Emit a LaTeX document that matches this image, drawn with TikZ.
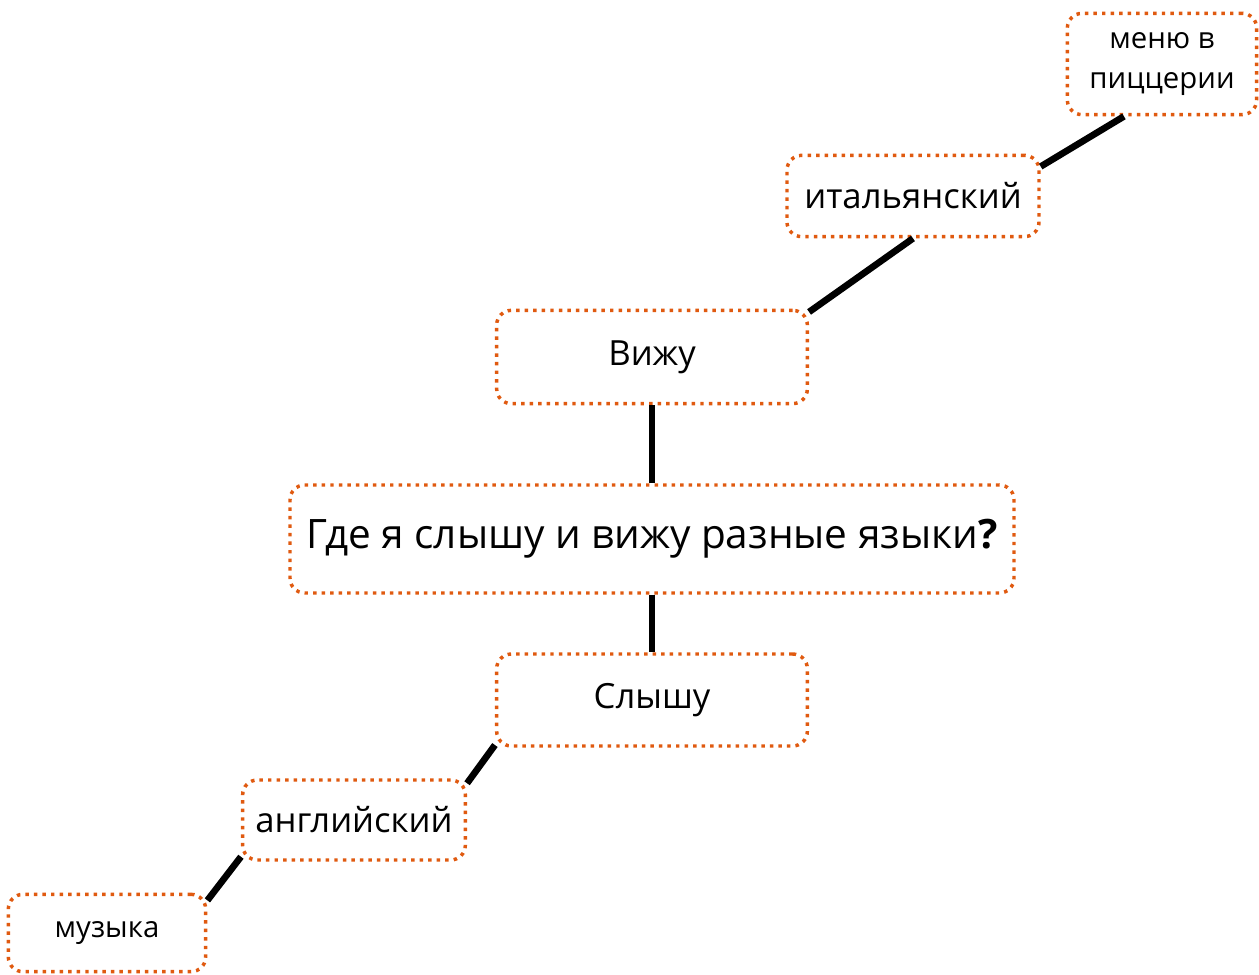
\documentclass[tikz,border=0pt]{standalone}
\usepackage{fontspec}
\setmainfont{Open Sans}
\usepackage{xcolor}
\usetikzlibrary{positioning}
\definecolor{dotorange}{HTML}{E05A10}

\begin{document}
\begin{tikzpicture}[
          x=0.75pt, y=-0.75pt,
          every node/.style={font=\fontsize{22}{30}\selectfont},
          wordbox/.style={draw=dotorange,line width=2.6pt,
                          dash pattern=on 2.6pt off 3.8pt,
                          rounded corners=11pt,fill=white,
                          inner sep=0pt,align=center},
          bigword/.style={font=\fontsize{26}{30}\selectfont},
          link/.style={line width=5pt,black},
      ]
        \useasboundingbox (0,0) rectangle (1259,974);

        \node[wordbox,minimum width=543pt,minimum height=81pt,
              font=\fontsize{30.4}{36}\selectfont] (main) at (652,539)
              {Где я слышу и вижу разные языки\textbf{?}};
        \node[wordbox,bigword,minimum width=233pt,minimum height=70pt] (vizhu) at (652,357) {Вижу};
        \node[wordbox,bigword,minimum width=233pt,minimum height=69pt] (slyshu) at (652,700) {Слышу};
        \node[wordbox,bigword,minimum width=189pt,minimum height=61pt] (ital) at (913,196) {итальянский};
        \node[wordbox,bigword,minimum width=167pt,minimum height=60pt] (angl) at (354,820) {английский};
        \node[wordbox,minimum width=142pt,minimum height=76pt] (menu) at (1162,64)
              {меню в\\пиццерии};
        \node[wordbox,minimum width=148pt,minimum height=58pt] (muz) at (107,933) {музыка};

        \draw[link] (main.north) -- (vizhu.south);
        \draw[link] (main.south) -- (slyshu.north);
        \draw[link] (vizhu.16) -- (ital.south);
        \draw[link] (ital.13) -- (menu.234);
        \draw[link] (slyshu.196) -- (angl.18);
        \draw[link] (angl.198) -- (muz.18);
\end{tikzpicture}
\end{document}
